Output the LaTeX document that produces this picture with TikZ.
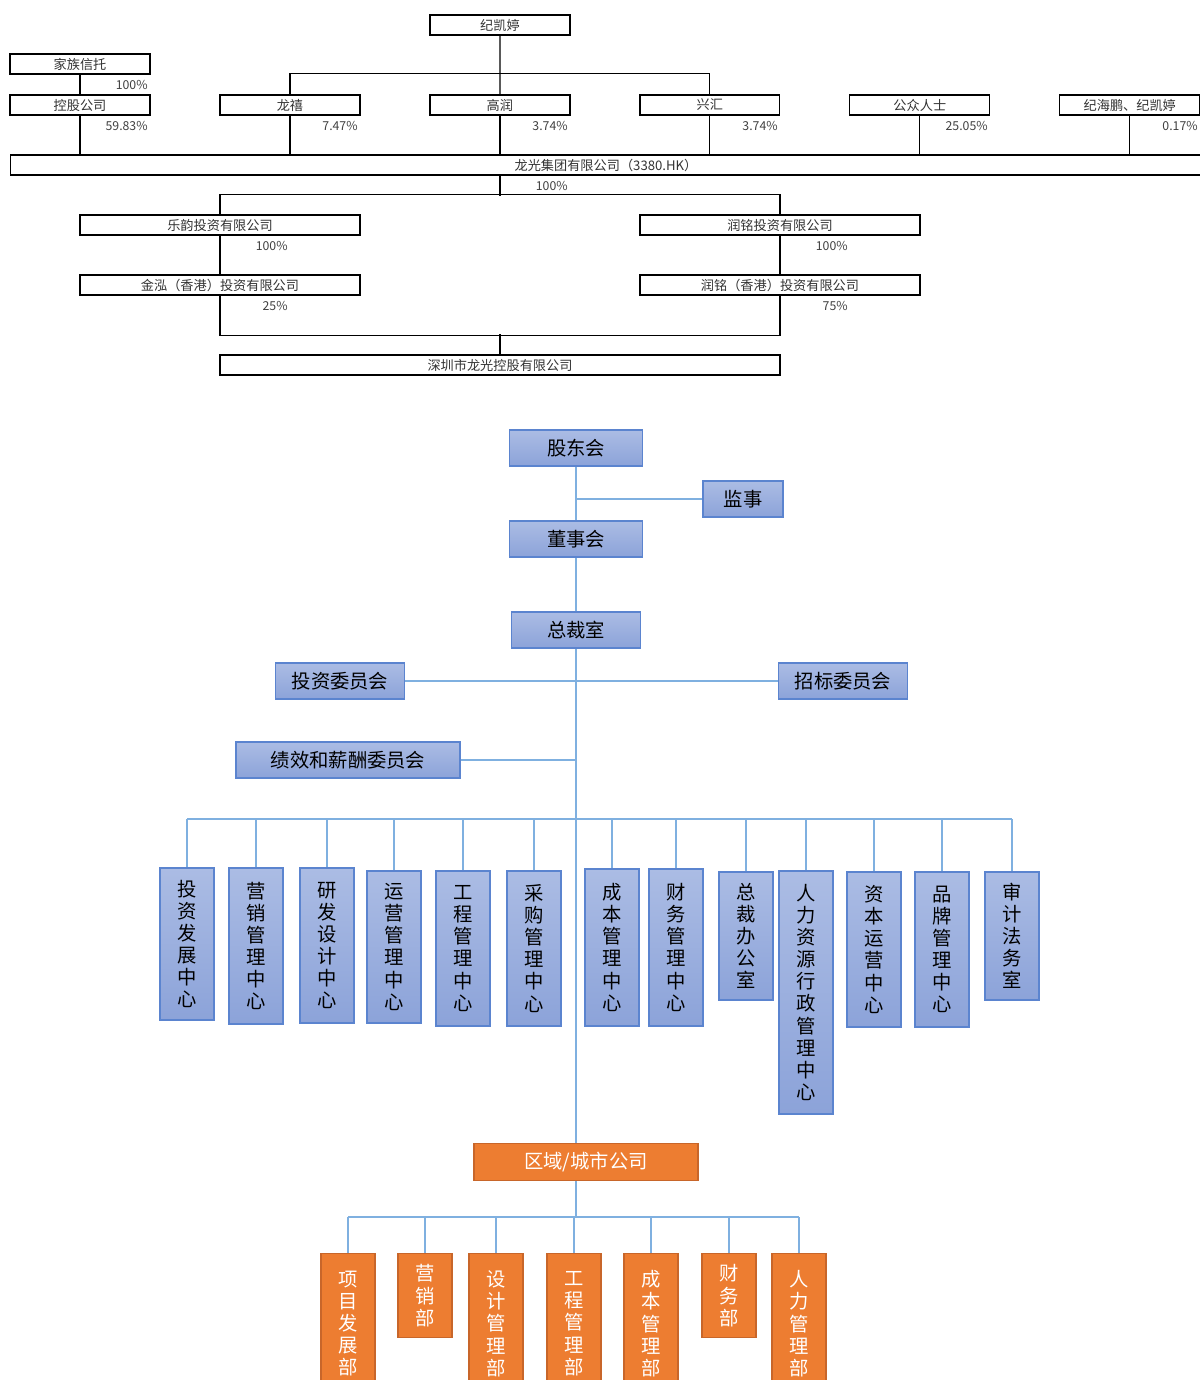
\documentclass[tikz,border=0pt]{standalone}
\usepackage{fontspec}
\setmainfont{Noto Sans CJK SC}
\usepackage{xcolor}
\usepackage{tikz}
\usetikzlibrary{positioning}

\definecolor{boxblue}{HTML}{5B84CF}
\definecolor{lineblue}{HTML}{7FB0E0}
\definecolor{filltop}{HTML}{ABBCE4}
\definecolor{fillbot}{HTML}{8CA3D9}
\definecolor{orgfill}{HTML}{ED7D31}
\definecolor{orgdraw}{HTML}{C8662A}
\definecolor{pctgray}{HTML}{404040}

\tikzset{
  holder/.style={rectangle, draw=black, line width=0.7pt, fill=white, minimum width=2.8cm, minimum height=0.4cm, inner sep=0pt, font=\fontsize{7.5}{9}\selectfont, text=black!80},
  pct/.style={anchor=east, inner sep=0pt, font=\fontsize{7}{8}\selectfont, text=pctgray},
  own/.style={line width=0.7pt},
  bluebox/.style={rectangle, draw=boxblue, line width=1pt, top color=filltop, bottom color=fillbot, minimum height=0.72cm, inner sep=0pt, font=\fontsize{11}{13}\selectfont},
  vbox/.style={bluebox, anchor=north, minimum width=1.08cm, align=center, font=\fontsize{11}{12.6}\selectfont},
  orgbox/.style={rectangle, draw=orgdraw, line width=0.8pt, fill=orgfill, text=white, inner sep=0pt, font=\fontsize{11}{13}\selectfont},
  ovbox/.style={orgbox, anchor=north, minimum width=1.08cm, align=center, font=\fontsize{11}{12.6}\selectfont},
  link/.style={draw=lineblue, line width=1pt}
}

\begin{document}
\begin{tikzpicture}[x=0.02cm, y=-0.02cm]
    \useasboundingbox (0,0) rectangle (1200,1380);
    \clip (0,0) rectangle (1200,1380);

    % shareholding structure
    \node [holder] (jkt) at (500,25) {纪凯婷};
    \node [holder] (jztx) at (80,64) {家族信托};
    \node [holder] (kg) at (80,105) {控股公司};
    \node [holder, right of=kg, node distance=4.2cm] (lx) {龙禧};
    \node [holder, right of=lx, node distance=4.2cm] (gr) {高润};
    \node [holder, right of=gr, node distance=4.2cm] (xh) {兴汇};
    \node [holder, right of=xh, node distance=4.2cm] (gzrs) {公众人士};
    \node [holder, right of=gzrs, node distance=4.2cm] (jhp) {纪海鹏、纪凯婷};
    \node [holder, minimum width=23.84cm] (lgjt) at (606,165) {龙光集团有限公司（3380.HK）};
    \node [holder, minimum width=5.6cm] (ly) at (220,225) {乐韵投资有限公司};
    \node [holder, minimum width=5.6cm] (rm) at (780,225) {润铭投资有限公司};
    \node [holder, minimum width=5.6cm] (jh) at (220,285) {金泓（香港）投资有限公司};
    \node [holder, minimum width=5.6cm] (rmhk) at (780,285) {润铭（香港）投资有限公司};
    \node [holder, minimum width=11.2cm] (szlg) at (500,365) {深圳市龙光控股有限公司};

    \draw [own] (jztx) -- (kg);
    \draw [own] (jkt) -- (gr);
    \draw [own] (lx.north) -- ++(0,-21) -| (xh.north);
    \draw [own] (kg.south) -- (kg.south |- lgjt.north);
    \draw [own] (lx.south) -- (lx.south |- lgjt.north);
    \draw [own] (gr.south) -- (gr.south |- lgjt.north);
    \draw [own] (xh.south) -- (xh.south |- lgjt.north);
    \draw [own] (gzrs.south) -- (gzrs.south |- lgjt.north);
    \draw [own] (jhp.south) -- (jhp.south |- lgjt.north);
    \draw [own] (lgjt.south -| gr.south) -- ++(0,20);
    \draw [own] (ly.north) -- ++(0,-20) -| (rm.north);
    \draw [own] (ly) -- (jh);
    \draw [own] (rm) -- (rmhk);
    \draw [own] (jh.south) -- ++(0,40) -| (rmhk.south);
    \draw [own] (szlg.north) -- ++(0,-20);

    \node [pct] at (148,85) {100\%};
    \node [pct] at (148,126) {59.83\%};
    \node [pct] at (358,126) {7.47\%};
    \node [pct] at (568,126) {3.74\%};
    \node [pct] at (778,126) {3.74\%};
    \node [pct] at (988,126) {25.05\%};
    \node [pct] at (1198,126) {0.17\%};
    \node [pct] at (568,186) {100\%};
    \node [pct] at (288,246) {100\%};
    \node [pct] at (848,246) {100\%};
    \node [pct] at (288,306) {25\%};
    \node [pct] at (848,306) {75\%};

    % headquarters
    \node [bluebox, minimum width=2.66cm] (gdh) at (576,448) {股东会};
    \node [bluebox, minimum width=1.6cm] (js) at (743,499) {监事};
    \node [bluebox, minimum width=2.66cm] (dsh) at (576,539) {董事会};
    \node [bluebox, minimum width=2.58cm] (zcs) at (576,630) {总裁室};
    \node [bluebox, minimum width=2.58cm] (tzwyh) at (340,681) {投资委员会};
    \node [bluebox, minimum width=2.58cm] (zbwyh) at (843,681) {招标委员会};
    \node [bluebox, minimum width=4.48cm] (jxwyh) at (348,760) {绩效和薪酬委员会};

    \coordinate (bus) at (576,819);
    \node [vbox, minimum height=3.04cm] (c1) at (187,867) {投\\资\\发\\展\\中\\心};
    \node [vbox, minimum height=3.12cm] (c2) at (256,867) {营\\销\\管\\理\\中\\心};
    \node [vbox, minimum height=3.10cm] (c3) at (327,867) {研\\发\\设\\计\\中\\心};
    \node [vbox, minimum height=3.04cm] (c4) at (394,870) {运\\营\\管\\理\\中\\心};
    \node [vbox, minimum height=3.10cm] (c5) at (463,870) {工\\程\\管\\理\\中\\心};
    \node [vbox, minimum height=3.10cm] (c6) at (534,870) {采\\购\\管\\理\\中\\心};
    \node [vbox, minimum height=3.14cm] (c7) at (612,868) {成\\本\\管\\理\\中\\心};
    \node [vbox, minimum height=3.14cm] (c8) at (676,868) {财\\务\\管\\理\\中\\心};
    \node [vbox, minimum height=2.56cm] (c9) at (746,871) {总\\裁\\办\\公\\室};
    \node [vbox, minimum height=4.86cm] (c10) at (806,870) {人\\力\\资\\源\\行\\政\\管\\理\\中\\心};
    \node [vbox, minimum height=3.10cm] (c11) at (874,871) {资\\本\\运\\营\\中\\心};
    \node [vbox, minimum height=3.10cm] (c12) at (942,871) {品\\牌\\管\\理\\中\\心};
    \node [vbox, minimum height=2.56cm] (c13) at (1012,871) {审\\计\\法\\务\\室};

    \draw [link] (gdh) -- (dsh);
    \draw [link] (js.west) -- (js.west -| gdh.south);
    \draw [link] (dsh) -- (zcs);
    \draw [link] (tzwyh) -- (zbwyh);
    \draw [link] (jxwyh.east) -- (jxwyh.east -| zcs.south);
    \draw [link] (c1.north |- bus) -- (c13.north |- bus);
    \draw [link] (c1.north) -- (c1.north |- bus);
    \draw [link] (c2.north) -- (c2.north |- bus);
    \draw [link] (c3.north) -- (c3.north |- bus);
    \draw [link] (c4.north) -- (c4.north |- bus);
    \draw [link] (c5.north) -- (c5.north |- bus);
    \draw [link] (c6.north) -- (c6.north |- bus);
    \draw [link] (c7.north) -- (c7.north |- bus);
    \draw [link] (c8.north) -- (c8.north |- bus);
    \draw [link] (c9.north) -- (c9.north |- bus);
    \draw [link] (c10.north) -- (c10.north |- bus);
    \draw [link] (c11.north) -- (c11.north |- bus);
    \draw [link] (c12.north) -- (c12.north |- bus);
    \draw [link] (c13.north) -- (c13.north |- bus);

    % regional company
    \node [orgbox, minimum width=4.48cm, minimum height=0.74cm] (qy) at (586,1162) {区域/城市公司};
    \draw [link] (zcs.south) -- (zcs.south |- qy.north);

    \coordinate (obus) at (576,1217);
    \node [ovbox, minimum height=2.8cm] (o1) at (348,1253) {项\\目\\发\\展\\部};
    \node [ovbox, minimum height=1.68cm] (o2) at (425,1253) {营\\销\\部};
    \node [ovbox, minimum height=2.8cm] (o3) at (496,1253) {设\\计\\管\\理\\部};
    \node [ovbox, minimum height=2.8cm] (o4) at (574,1253) {工\\程\\管\\理\\部};
    \node [ovbox, minimum height=2.8cm] (o5) at (651,1253) {成\\本\\管\\理\\部};
    \node [ovbox, minimum height=1.68cm] (o6) at (729,1253) {财\\务\\部};
    \node [ovbox, minimum height=2.8cm] (o7) at (799,1253) {人\\力\\管\\理\\部};

    \draw [link] (zcs.south |- qy.south) -- (obus);
    \draw [link] (o1.north |- obus) -- (o7.north |- obus);
    \draw [link] (o1.north) -- (o1.north |- obus);
    \draw [link] (o2.north) -- (o2.north |- obus);
    \draw [link] (o3.north) -- (o3.north |- obus);
    \draw [link] (o4.north) -- (o4.north |- obus);
    \draw [link] (o5.north) -- (o5.north |- obus);
    \draw [link] (o6.north) -- (o6.north |- obus);
    \draw [link] (o7.north) -- (o7.north |- obus);
\end{tikzpicture}
\end{document}
